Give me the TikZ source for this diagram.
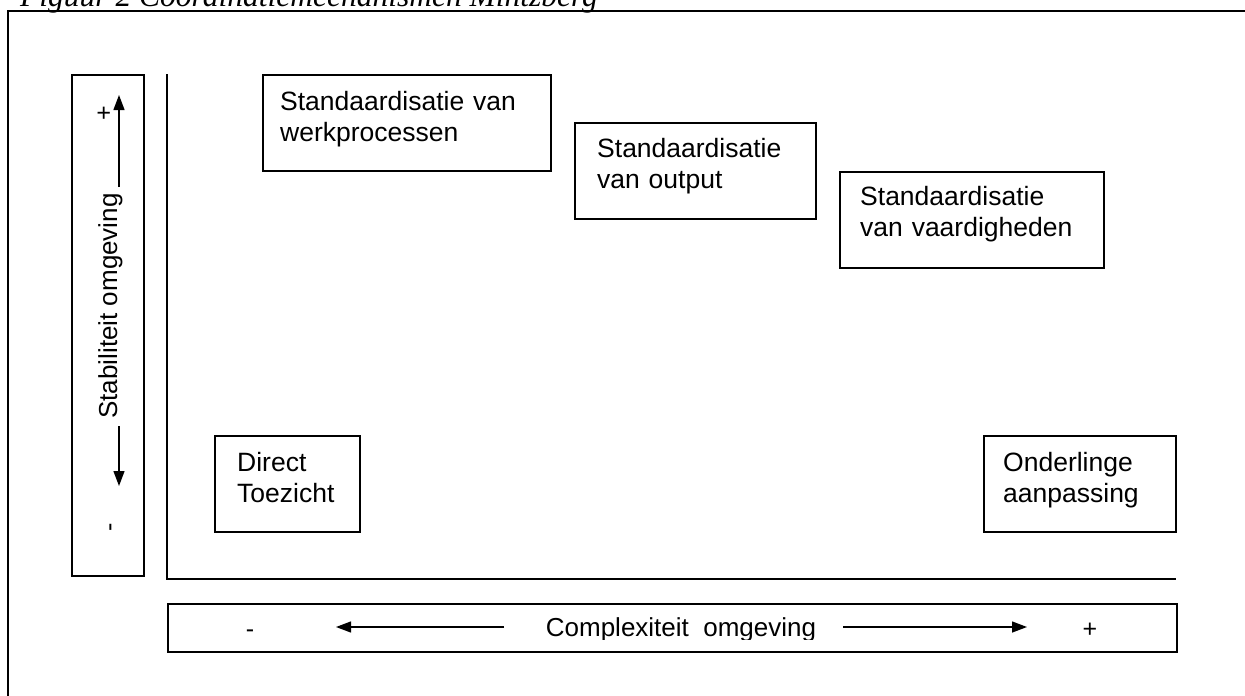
\documentclass[tikz,border=0pt]{standalone}
\usepackage{fontspec}
\setmainfont{Liberation Sans}
\newfontfamily\captionserif{Liberation Serif}
\usetikzlibrary{arrows.meta}

\begin{document}
\begin{tikzpicture}[x=1pt,y=-1pt,
  box/.style={draw, line width=1.5pt, inner sep=0pt, anchor=north west},
  lbl/.style={inner sep=0pt, anchor=base west, align=left, text width=320pt,
    font=\fontsize{26.5}{31}\selectfont},
  axisline/.style={line width=1.5pt},
  frame/.style={line width=2.4pt},
  arr/.style={line width=1.3pt, -{Triangle[length=15pt,width=11pt]}},
  sign/.style={inner sep=0pt, anchor=base, font=\fontsize{25}{25}\selectfont},
]
\clip (0,0) rectangle (1245,696);
\useasboundingbox (0,0) rectangle (1245,696);

% caption above the frame
\node[inner sep=0pt, anchor=base west,
  font=\captionserif\itshape\fontsize{31.5}{31.5}\selectfont] (caption) at (20,6)
  {Figuur 2 Coördinatiemechanismen Mintzberg};

% outer frame
\draw[frame] (8,710) -- (8,11) -- (1260,11);

% vertical scale: stability of the environment
\node[box, minimum width=72pt, minimum height=501pt] (vbox) at (71,74) {};
\node[sign, rotate=90] (vplus) at (112,113) {+};
\node[sign, rotate=90] (vminus) at (117,527) {-};
\node[rotate=90, anchor=base, inner sep=0pt, font=\fontsize{26}{26}\selectfont]
  (vlabel) at (117,306) {Stabiliteit omgeving};
\coordinate (upS) at (119,187);
\coordinate (upT) at (119,95);
\coordinate (dnS) at (119,426);
\coordinate (dnT) at (119,486);
\draw[arr] (upS) -- (upT);
\draw[arr] (dnS) -- (dnT);

% axes
\coordinate (ytop) at (167,74);
\coordinate (origin) at (167,579);
\coordinate (xend) at (1176,579);
\draw[axisline] (ytop) -- (origin) -- (xend);

% horizontal scale: complexity of the environment
\node[box, minimum width=1009pt, minimum height=48pt] (hbox) at (167,603) {};
\node[sign] (hminus) at (250,637) {-};
\node[sign] (hplus) at (1090,637) {+};
\begin{scope}
  % the label is cut just below its baseline
  \clip (520,605) rectangle (840,639);
  \node[inner sep=0pt, anchor=base, font=\fontsize{26}{26}\selectfont]
    (hlabel) at (681,636) {Complexiteit\ \ omgeving};
\end{scope}
\coordinate (lS) at (504,627);
\coordinate (lT) at (336,627);
\coordinate (rS) at (843,627);
\coordinate (rT) at (1027,627);
\draw[arr] (lS) -- (lT);
\draw[arr] (rS) -- (rT);

% coordination mechanisms
\node[box, minimum width=288pt, minimum height=96pt] (werk) at (262,74) {};
\node[lbl] (werkT) at (280,110) {Standaardisatie van\\werkprocessen};

\node[box, minimum width=241pt, minimum height=96pt] (output) at (574,122) {};
\node[lbl] (outputT) at (597,157) {Standaardisatie\\van output};

\node[box, minimum width=264pt, minimum height=96pt] (vaard) at (839,171) {};
\node[lbl] (vaardT) at (860,205) {Standaardisatie\\van vaardigheden};

\node[box, minimum width=145pt, minimum height=96pt] (direct) at (214,435) {};
\node[lbl] (directT) at (237,471) {Direct\\Toezicht};

\node[box, minimum width=192pt, minimum height=96pt] (onder) at (983,435) {};
\node[lbl] (onderT) at (1003,471) {Onderlinge\\aanpassing};
\end{tikzpicture}
\end{document}
